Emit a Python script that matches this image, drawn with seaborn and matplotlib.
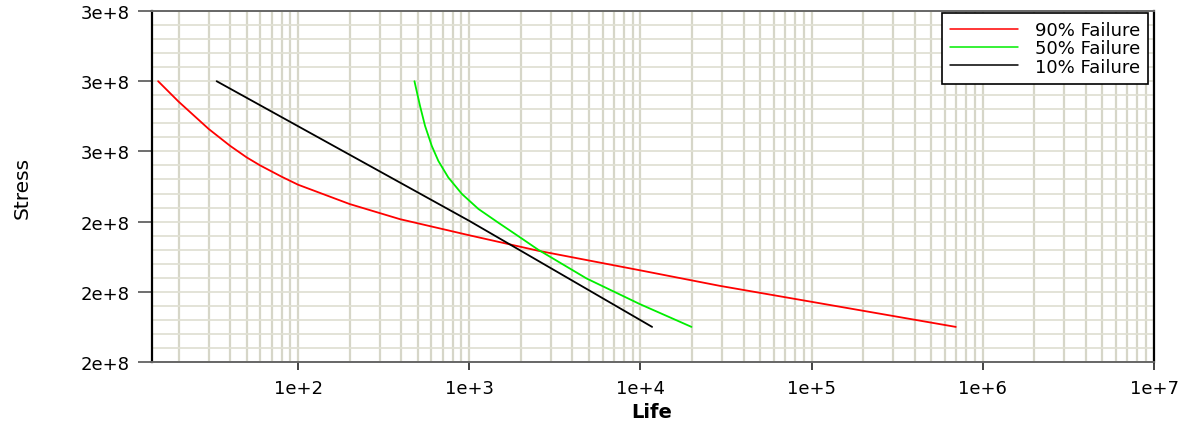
import numpy as np
import pandas as pd
import matplotlib
matplotlib.use("Agg")
import matplotlib.pyplot as plt
import seaborn as sns
from matplotlib.ticker import FuncFormatter, LogLocator, MultipleLocator, NullFormatter

# ---- data ----
series_names = ["90% Failure", "50% Failure", "10% Failure"]

life_90 = [15.2, 20, 30, 40, 50, 60, 80, 100, 200, 393, 1000, 2523, 10000, 29040, 695000]
stress_90 = [2.800e8, 2.742e8, 2.664e8, 2.616e8, 2.583e8, 2.560e8, 2.528e8, 2.505e8,
             2.450e8, 2.407e8, 2.361e8, 2.317e8, 2.261e8, 2.217e8, 2.100e8]

life_50 = [478, 515, 551, 603, 659, 753, 904, 1130, 1476, 2023, 2523, 4840, 9910, 19860]
stress_50 = [2.800e8, 2.730e8, 2.673e8, 2.616e8, 2.573e8, 2.526e8, 2.479e8, 2.436e8,
             2.397e8, 2.352e8, 2.320e8, 2.238e8, 2.165e8, 2.100e8]

life_10 = [33.4, 1000, 11690]
stress_10 = [2.800e8, 2.402e8, 2.100e8]

y_ticks = [2.0e8, 2.2e8, 2.4e8, 2.6e8, 2.8e8, 3.0e8]
x_limits = [14, 1e7]
colors = ["#ff0000", "#00ee00", "#000000"]

df = pd.concat([
    pd.DataFrame({"Life": life_90, "Stress": stress_90, "Series": series_names[0]}),
    pd.DataFrame({"Life": life_50, "Stress": stress_50, "Series": series_names[1]}),
    pd.DataFrame({"Life": life_10, "Stress": stress_10, "Series": series_names[2]}),
], ignore_index=True)

sns.set_theme(style="white")
plt.rcParams["font.family"] = ["DejaVu Sans"]
plt.rcParams["text.color"] = "black"
plt.rcParams["axes.labelcolor"] = "black"
plt.rcParams["xtick.color"] = "black"
plt.rcParams["ytick.color"] = "black"

fig = plt.figure(figsize=(11.91, 4.27), dpi=100)
ax = fig.add_axes([152 / 1191, 1 - 363 / 427, (1154 - 152) / 1191, (363 - 12) / 427])

sns.lineplot(data=df, x="Life", y="Stress", hue="Series", palette=colors,
             hue_order=series_names, sort=False, estimator=None, linewidth=1.3, ax=ax)

ax.set_xscale("log")
ax.set_xlim(*x_limits)
ax.set_ylim(y_ticks[0], y_ticks[-1])

ax.xaxis.set_major_locator(LogLocator(base=10, numticks=20))
ax.xaxis.set_minor_locator(LogLocator(base=10, subs=np.arange(2, 10), numticks=100))
ax.xaxis.set_minor_formatter(NullFormatter())
ax.set_yticks(y_ticks)
ax.yaxis.set_minor_locator(MultipleLocator(0.04e8))


def efmt(v, pos):
    s = f"{v:.0e}"
    mant, exp = s.split("e")
    return f"{mant}e{exp[0]}{int(exp[1:])}"


ax.xaxis.set_major_formatter(FuncFormatter(lambda v, p: efmt(v, p) if v >= 100 else ""))
ax.yaxis.set_major_formatter(FuncFormatter(efmt))

ax.grid(True, which="both", axis="x", color="#d6d6c8", linewidth=1.6, zorder=0)
ax.grid(True, which="both", axis="y", color="#e0e0d4", linewidth=1.3, zorder=0)
ax.set_axisbelow(True)

ax.tick_params(axis="y", which="major", direction="out", length=10, width=1.2,
               color="#555555", labelcolor="black", labelsize=13, pad=6, left=True)
ax.tick_params(axis="x", which="major", direction="out", length=6, width=1.2,
               color="#222222", labelcolor="black", labelsize=13, pad=6, bottom=True)
ax.tick_params(which="minor", length=0)

for side, col, lw in [("left", "black", 1.6), ("right", "black", 1.6),
                      ("top", "#666666", 1.4), ("bottom", "#666666", 1.4)]:
    ax.spines[side].set_visible(True)
    ax.spines[side].set_color(col)
    ax.spines[side].set_linewidth(lw)

ax.set_xlabel("Life", fontsize=14, fontweight="bold")
ax.xaxis.set_label_coords(0.499, -0.142)
ax.xaxis.label.set_va("center")
ax.set_ylabel("Stress", fontsize=14.5)
ax.yaxis.set_label_coords(-0.1297, 0.5)
ax.yaxis.label.set_va("center")

handles, labels = ax.get_legend_handles_labels()
leg = ax.legend(handles, labels, loc="upper right", bbox_to_anchor=(0.994, 0.995),
                fontsize=13, frameon=True, fancybox=False, framealpha=1,
                edgecolor="black", handlelength=3.8, handletextpad=0.9,
                labelspacing=0.02, borderpad=0.45, borderaxespad=0)
leg.get_frame().set_linewidth(1.2)
for h in leg.get_lines():
    h.set_linewidth(1.1)

fig.savefig("out.png", dpi=100)
